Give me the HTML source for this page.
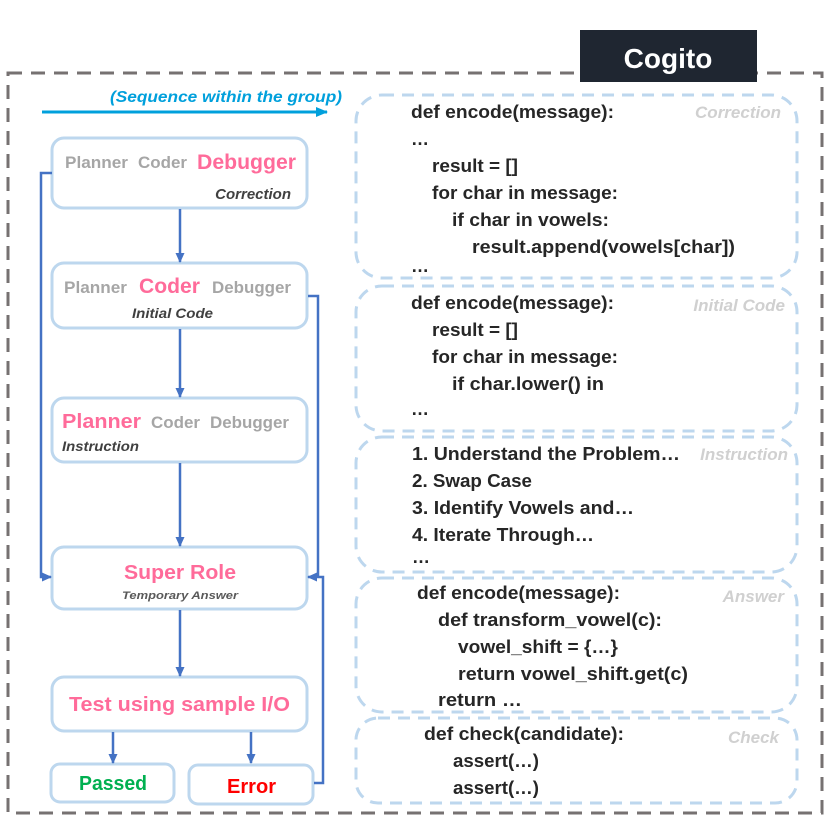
<!DOCTYPE html>
<html><head><meta charset="utf-8"><style>
html,body{margin:0;padding:0;background:#fff;}
svg{display:block;font-family:"Liberation Sans",sans-serif;}
.c{font-weight:bold;font-size:18px;fill:#262626;}
.lab{font-style:italic;font-weight:bold;font-size:17px;fill:#d0d0d0;}
.g{font-weight:bold;font-size:17px;fill:#a6a6a6;}
.p{font-weight:bold;fill:#ff6b9a;}
.it{font-style:italic;font-weight:bold;fill:#404040;}
</style></head><body>
<svg width="831" height="822" viewBox="0 0 831 822">
<defs>
<marker id="a" markerWidth="10" markerHeight="10" refX="9" refY="5" orient="auto" markerUnits="userSpaceOnUse"><path d="M0,0.5 L10,5 L0,9.5 Z" fill="#4472c4"/></marker>
<marker id="b" markerWidth="12" markerHeight="12" refX="11" refY="6" orient="auto" markerUnits="userSpaceOnUse"><path d="M0,1 L12,6 L0,11 Z" fill="#00a0dc"/></marker>
</defs>
<rect x="8" y="73" width="814" height="740" fill="none" stroke="#767171" stroke-width="3" stroke-dasharray="14,9"/>
<rect x="580" y="30" width="177" height="52" fill="#1f2631"/>
<text x="668" y="68" text-anchor="middle" font-size="28" font-weight="bold" fill="#fff">Cogito</text>

<text x="110" y="102" font-size="16" font-weight="bold" font-style="italic" fill="#00a0dc" textLength="232" lengthAdjust="spacingAndGlyphs">(Sequence within the group)</text>
<line x1="42" y1="112" x2="327" y2="112" stroke="#00a0dc" stroke-width="3" marker-end="url(#b)"/>

<g fill="#fff" stroke="#bdd7ee" stroke-width="3">
<rect x="52" y="138" width="255" height="70" rx="12"/>
<rect x="52" y="263" width="255" height="65" rx="12"/>
<rect x="52" y="398" width="255" height="64" rx="12"/>
<rect x="52" y="547" width="255" height="62" rx="12"/>
<rect x="52" y="677" width="255" height="54" rx="12"/>
<rect x="51" y="764" width="123" height="38" rx="9"/>
<rect x="189" y="765" width="124" height="39" rx="9"/>
</g>
<text class="g" x="65" y="168" textLength="63" lengthAdjust="spacingAndGlyphs">Planner</text>
<text class="g" x="138" y="168" textLength="49" lengthAdjust="spacingAndGlyphs">Coder</text>
<text class="p" x="197" y="169" font-size="21" textLength="99" lengthAdjust="spacingAndGlyphs">Debugger</text>
<text class="it" x="291" y="199" font-size="15" text-anchor="end">Correction</text>

<text class="g" x="64" y="293" textLength="63" lengthAdjust="spacingAndGlyphs">Planner</text>
<text class="p" x="139" y="293" font-size="21" textLength="61" lengthAdjust="spacingAndGlyphs">Coder</text>
<text class="g" x="212" y="293" textLength="79" lengthAdjust="spacingAndGlyphs">Debugger</text>
<text class="it" x="132" y="318" font-size="14" textLength="81" lengthAdjust="spacingAndGlyphs">Initial Code</text>

<text class="p" x="62" y="428" font-size="20" textLength="79" lengthAdjust="spacingAndGlyphs">Planner</text>
<text class="g" x="151" y="428" textLength="49" lengthAdjust="spacingAndGlyphs">Coder</text>
<text class="g" x="210" y="428" textLength="79" lengthAdjust="spacingAndGlyphs">Debugger</text>
<text class="it" x="62" y="451" font-size="14" textLength="77" lengthAdjust="spacingAndGlyphs">Instruction</text>

<text class="p" x="180" y="579" font-size="20" text-anchor="middle" textLength="112" lengthAdjust="spacingAndGlyphs">Super Role</text>
<text x="180" y="599" font-size="11" font-style="italic" font-weight="bold" fill="#595959" text-anchor="middle" textLength="116" lengthAdjust="spacingAndGlyphs">Temporary Answer</text>
<text class="p" x="69" y="711" font-size="20" textLength="221" lengthAdjust="spacingAndGlyphs">Test using sample I/O</text>
<text x="79" y="790" font-size="20" font-weight="bold" fill="#00b050" textLength="68" lengthAdjust="spacingAndGlyphs">Passed</text>
<text x="227" y="793" font-size="20" font-weight="bold" fill="#ff0000" textLength="49" lengthAdjust="spacingAndGlyphs">Error</text>

<g stroke="#4472c4" stroke-width="2.5" fill="none">
<line x1="180" y1="209" x2="180" y2="262" marker-end="url(#a)"/>
<line x1="180" y1="329" x2="180" y2="397" marker-end="url(#a)"/>
<line x1="180" y1="463" x2="180" y2="546" marker-end="url(#a)"/>
<line x1="180" y1="610" x2="180" y2="676" marker-end="url(#a)"/>
<line x1="113" y1="732" x2="113" y2="763" marker-end="url(#a)"/>
<line x1="251" y1="732" x2="251" y2="763" marker-end="url(#a)"/>
<polyline points="52,173 41,173 41,577 51,577" marker-end="url(#a)"/>
<polyline points="308,296 318,296 318,577"/>
<polyline points="314,783 323,783 323,577 308,577" marker-end="url(#a)"/>
</g>

<g fill="none" stroke="#bdd7ee" stroke-width="3" stroke-dasharray="12,8">
<rect x="356" y="95" width="441" height="183" rx="26"/>
<rect x="356" y="286" width="441" height="145" rx="26"/>
<rect x="356" y="437" width="441" height="135" rx="26"/>
<rect x="356" y="578" width="441" height="134" rx="26"/>
<rect x="356" y="718" width="441" height="85" rx="22"/>
</g>

<text class="c" x="411" y="118" textLength="203" lengthAdjust="spacingAndGlyphs">def encode(message):</text>
<text class="c" x="411" y="145">…</text>
<text class="c" x="432" y="172" textLength="86" lengthAdjust="spacingAndGlyphs">result = []</text>
<text class="c" x="432" y="199" textLength="186" lengthAdjust="spacingAndGlyphs">for char in message:</text>
<text class="c" x="452" y="226" textLength="157" lengthAdjust="spacingAndGlyphs">if char in vowels:</text>
<text class="c" x="472" y="253" textLength="263" lengthAdjust="spacingAndGlyphs">result.append(vowels[char])</text>
<text class="c" x="411" y="272" font-size="11">…</text>
<text class="lab" x="781" y="118" text-anchor="end">Correction</text>

<text class="c" x="411" y="309" textLength="203" lengthAdjust="spacingAndGlyphs">def encode(message):</text>
<text class="c" x="432" y="336" textLength="86" lengthAdjust="spacingAndGlyphs">result = []</text>
<text class="c" x="432" y="363" textLength="186" lengthAdjust="spacingAndGlyphs">for char in message:</text>
<text class="c" x="452" y="390" textLength="152" lengthAdjust="spacingAndGlyphs">if char.lower() in</text>
<text class="c" x="411" y="415">…</text>
<text class="lab" x="785" y="311" text-anchor="end">Initial Code</text>

<text class="c" x="412" y="460" textLength="268" lengthAdjust="spacingAndGlyphs">1. Understand the Problem…</text>
<text class="c" x="412" y="487" textLength="120" lengthAdjust="spacingAndGlyphs">2. Swap Case</text>
<text class="c" x="412" y="514" textLength="222" lengthAdjust="spacingAndGlyphs">3. Identify Vowels and…</text>
<text class="c" x="412" y="541" textLength="182" lengthAdjust="spacingAndGlyphs">4. Iterate Through…</text>
<text class="c" x="412" y="563" font-size="11">…</text>
<text class="lab" x="788" y="460" text-anchor="end">Instruction</text>

<text class="c" x="417" y="599" textLength="203" lengthAdjust="spacingAndGlyphs">def encode(message):</text>
<text class="c" x="438" y="626" textLength="224" lengthAdjust="spacingAndGlyphs">def transform_vowel(c):</text>
<text class="c" x="458" y="653" textLength="160" lengthAdjust="spacingAndGlyphs">vowel_shift = {…}</text>
<text class="c" x="458" y="680" textLength="230" lengthAdjust="spacingAndGlyphs">return vowel_shift.get(c)</text>
<text class="c" x="438" y="706" textLength="84" lengthAdjust="spacingAndGlyphs">return  …</text>
<text class="lab" x="784" y="602" text-anchor="end">Answer</text>

<text class="c" x="424" y="740" textLength="200" lengthAdjust="spacingAndGlyphs">def check(candidate):</text>
<text class="c" x="453" y="767" textLength="86" lengthAdjust="spacingAndGlyphs">assert(…)</text>
<text class="c" x="453" y="794" textLength="86" lengthAdjust="spacingAndGlyphs">assert(…)</text>
<text class="lab" x="779" y="743" text-anchor="end">Check</text>
</svg>
</body></html>
